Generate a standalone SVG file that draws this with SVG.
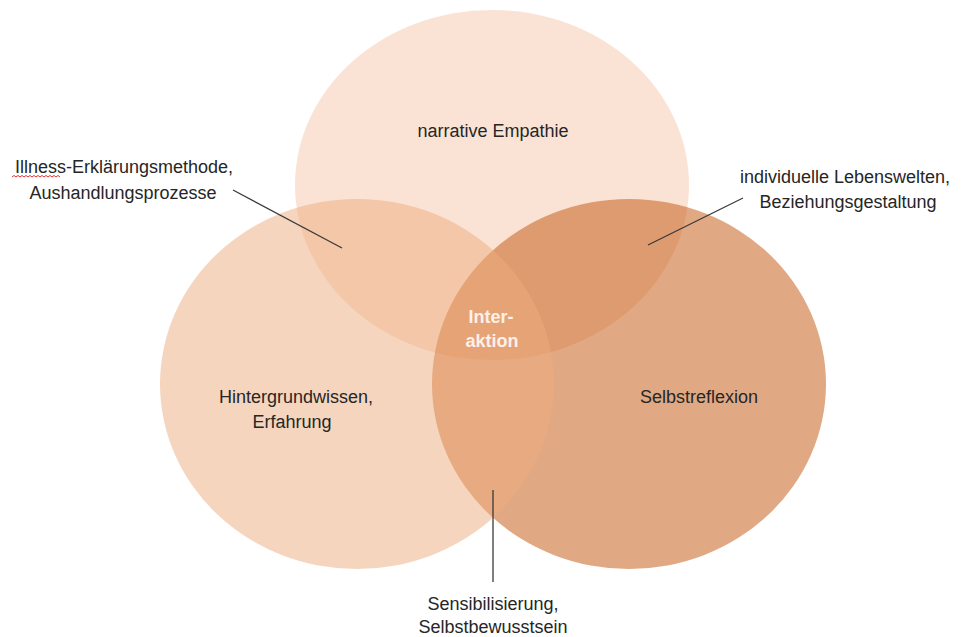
<svg xmlns="http://www.w3.org/2000/svg" width="961" height="637" viewBox="0 0 961 637">
<style>
.circ{opacity:0.5}
.lbl{font-family:"Liberation Sans",Arial,sans-serif;font-size:18px;fill:#262626;text-anchor:middle}
.ctr{font-family:"Liberation Sans",Arial,sans-serif;font-size:18px;font-weight:bold;fill:#FCF1EA;text-anchor:middle}
.conn{stroke:#3a3a3a;stroke-width:1.3;fill:none}
.spell{stroke:#E03030;stroke-width:1;fill:none}
</style>
<rect width="961" height="637" fill="#ffffff"/>
<g id="node-empathie">
<ellipse class="circ" cx="492" cy="185" rx="197" ry="175" fill="#F5C7A9"/>
<text class="lbl" x="493" y="137">narrative Empathie</text>
</g>
<g id="node-selbstreflexion">
<ellipse class="circ" cx="629" cy="384" rx="197" ry="185" fill="#C15309"/>
<text class="lbl" x="699" y="403">Selbstreflexion</text>
</g>
<g id="node-hintergrundwissen">
<ellipse class="circ" cx="357" cy="384" rx="197" ry="185" fill="#EDAB7D"/>
<text class="lbl" x="296" y="403">Hintergrundwissen,</text>
<text class="lbl" x="292" y="428">Erfahrung</text>
</g>
<g id="node-interaktion">
<text class="ctr" x="491" y="323">Inter-</text>
<text class="ctr" x="492" y="347">aktion</text>
</g>
<g id="connectors">
<line class="conn" x1="233" y1="190" x2="342" y2="248"/>
<line class="conn" x1="743" y1="198" x2="648" y2="245"/>
<line class="conn" x1="493" y1="490" x2="493" y2="582"/>
</g>
<g id="label-illness">
<text class="lbl" x="124" y="173">Illness-Erklärungsmethode,</text>
<text class="lbl" x="123" y="199">Aushandlungsprozesse</text>
<path class="spell" d="M12 177 l2 -1.5 l2 1.5 l2 -1.5 l2 1.5 l2 -1.5 l2 1.5 l2 -1.5 l2 1.5 l2 -1.5 l2 1.5 l2 -1.5 l2 1.5 l2 -1.5 l2 1.5 l2 -1.5 l2 1.5 l2 -1.5 l2 1.5 l2 -1.5 l2 1.5 l2 -1.5 l2 1.5 l2 -1.5 l2 1.5"/>
</g>
<g id="label-lebenswelten">
<text class="lbl" x="845" y="183">individuelle Lebenswelten,</text>
<text class="lbl" x="848" y="208">Beziehungsgestaltung</text>
</g>
<g id="label-sensibilisierung">
<text class="lbl" x="493" y="610">Sensibilisierung,</text>
<text class="lbl" x="493" y="633">Selbstbewusstsein</text>
</g>
</svg>
